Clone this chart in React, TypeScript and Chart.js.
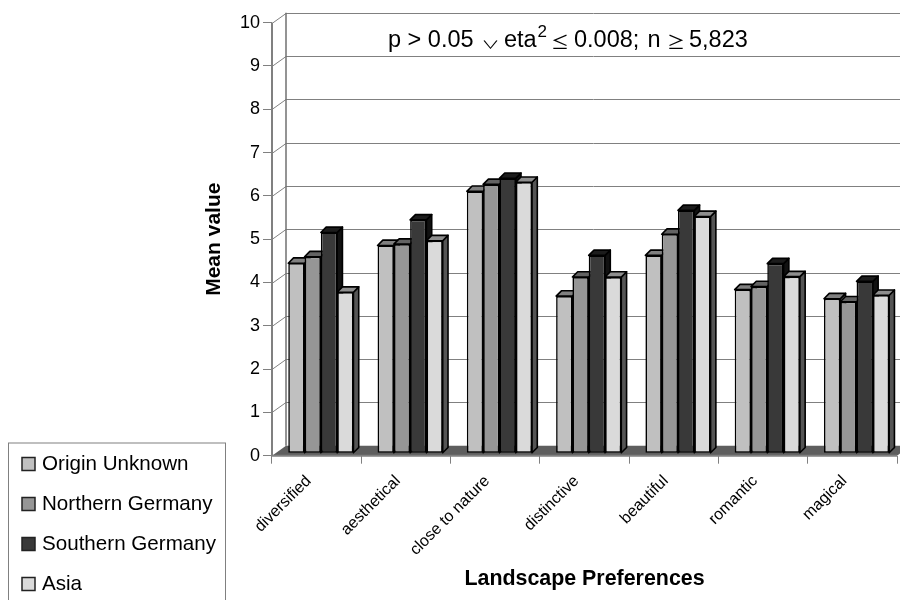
import React, { useEffect, useRef } from "react";
import { Chart, registerables } from "chart.js";

Chart.register(...registerables);

const categories = ["diversified", "aesthetical", "close to nature", "distinctive", "beautiful", "romantic", "magical"];
const originUnknown = [4.39, 4.80, 6.05, 3.63, 4.57, 3.78, 3.57];
const northernGermany = [4.54, 4.83, 6.21, 4.07, 5.06, 3.85, 3.50];
const southernGermany = [5.10, 5.39, 6.35, 4.57, 5.61, 4.38, 3.97];
const asia = [3.72, 4.91, 6.26, 4.07, 5.47, 4.08, 3.65];
const seriesNames = ["Origin Unknown", "Northern Germany", "Southern Germany", "Asia"];
const frontColors = ["#c0c0c0", "#969696", "#393939", "#dadada"];
const topColors = ["#808080", "#636363", "#1c1c1c", "#8e8e8e"];
const sideColors = ["#606060", "#4b4b4b", "#111111", "#555555"];

const FONT = '"Liberation Sans", Arial, sans-serif';
const WALL_DX = 14;
const WALL_DY = -10;
const BAR_DX = 4.2;
const BAR_DY = -2.4;
const BAR_DEPTH = 5.3;

const scene3d = {
  id: "scene3d",
  beforeDatasetsDraw(chart: any) {
    const { ctx, scales, chartArea } = chart;
    const y = scales.y;
    const base = y.getPixelForValue(0);
    ctx.save();
    // floor
    ctx.fillStyle = "#5e5e5e";
    ctx.beginPath();
    ctx.moveTo(chartArea.left, base);
    ctx.lineTo(chartArea.left + WALL_DX, base + WALL_DY);
    ctx.lineTo(chartArea.right + WALL_DX, base + WALL_DY);
    ctx.lineTo(chartArea.right, base);
    ctx.closePath();
    ctx.fill();
    // wall grid
    ctx.strokeStyle = "#808080";
    ctx.lineWidth = 1;
    y.ticks.forEach((t: any) => {
      if (t.value === 0) return;
      const py = Math.round(y.getPixelForValue(t.value)) + 0.5;
      ctx.beginPath();
      ctx.moveTo(chartArea.left, py);
      ctx.lineTo(chartArea.left + WALL_DX, py + WALL_DY);
      ctx.lineTo(chartArea.right + WALL_DX, py + WALL_DY);
      ctx.stroke();
    });
    ctx.lineWidth = 1.5;
    ctx.strokeStyle = "#707070";
    ctx.beginPath();
    ctx.moveTo(chartArea.left + WALL_DX, y.getPixelForValue(10) + WALL_DY);
    ctx.lineTo(chartArea.left + WALL_DX, base + WALL_DY);
    ctx.stroke();
    ctx.strokeStyle = "#808080";
    ctx.lineWidth = 2;
    ctx.beginPath();
    ctx.moveTo(chartArea.left, y.getPixelForValue(10));
    ctx.lineTo(chartArea.left, base);
    ctx.lineTo(chartArea.right, base);
    ctx.stroke();
    // bars, left to right so nearer faces cover the sides of earlier ones
    ctx.translate(BAR_DX, BAR_DY);
    const count = categories.length;
    for (let c = 0; c < count; c++) {
      for (let s = 0; s < chart.data.datasets.length; s++) {
        const bar = chart.getDatasetMeta(s).data[c];
        const { x, y: top, base: b, width } = bar.getProps(["x", "y", "base", "width"], true);
        const l = x - width / 2;
        const r = x + width / 2;
        ctx.lineWidth = 1.6;
        ctx.strokeStyle = "#000000";
        ctx.lineJoin = "round";
        ctx.fillStyle = sideColors[s];
        ctx.beginPath();
        ctx.moveTo(r, top);
        ctx.lineTo(r + BAR_DEPTH, top - BAR_DEPTH);
        ctx.lineTo(r + BAR_DEPTH, b - BAR_DEPTH);
        ctx.lineTo(r, b);
        ctx.closePath();
        ctx.fill();
        ctx.stroke();
        ctx.fillStyle = topColors[s];
        ctx.beginPath();
        ctx.moveTo(l, top);
        ctx.lineTo(l + BAR_DEPTH, top - BAR_DEPTH);
        ctx.lineTo(r + BAR_DEPTH, top - BAR_DEPTH);
        ctx.lineTo(r, top);
        ctx.closePath();
        ctx.fill();
        ctx.stroke();
        bar.draw(ctx);
      }
    }
    ctx.restore();
    return false;
  },
  afterDraw(chart: any) {
    const { ctx } = chart;
    ctx.save();
    // legend
    ctx.fillStyle = "#ffffff";
    ctx.strokeStyle = "#808080";
    ctx.lineWidth = 1;
    ctx.fillRect(8.5, 443, 217, 170);
    ctx.strokeRect(8.5, 443, 217, 170);
    ctx.textBaseline = "middle";
    ctx.textAlign = "left";
    ctx.font = `20.6px ${FONT}`;
    chart.data.datasets.forEach((d: any, i: number) => {
      const cy = 464 + i * 40;
      ctx.fillStyle = d.backgroundColor;
      ctx.strokeStyle = "#222222";
      ctx.lineWidth = 1.5;
      ctx.fillRect(22, cy - 6.5, 13, 13);
      ctx.strokeRect(22, cy - 6.5, 13, 13);
      ctx.fillStyle = "#000000";
      ctx.fillText(d.label, 42, cy + 0.5);
    });
    // statistics note
    ctx.textBaseline = "alphabetic";
    ctx.fillStyle = "#000000";
    const baseY = 47;
    const main = `23.5px ${FONT}`;
    const math = `18px "Noto Sans CJK JP"`;
    const put = (t: string, x: number, font: string, dy = 0) => {
      ctx.font = font;
      ctx.fillText(t, x, baseY + dy);
    };
    put("p > 0.05", 388, main);
    ctx.save();
    ctx.translate(481.5, baseY + 1.5);
    ctx.scale(1, 0.62);
    ctx.font = math;
    ctx.fillText("\u2228", 0, 0);
    ctx.restore();
    put("eta", 504, main);
    put("2", 537.5, `17px ${FONT}`, -10.5);
    put("\u2264", 551, math, 1.5);
    put("0.008;", 574, main);
    put("n", 647.5, main);
    put("\u2265", 667, math, 1.5);
    put("5,823", 689, main);
    ctx.restore();
  },
};

export default function App() {
  const ref = useRef<HTMLCanvasElement | null>(null);
  useEffect(() => {
    if (!ref.current) return;
    const values = [originUnknown, northernGermany, southernGermany, asia];
    const chart = new Chart(ref.current, {
      type: "bar",
      data: {
        labels: categories,
        datasets: seriesNames.map((label, i) => ({
          label,
          data: values[i],
          backgroundColor: frontColors[i],
          borderColor: "#000000",
          borderWidth: 1.6,
          borderSkipped: false,
          barPercentage: 1,
          categoryPercentage: 0.73,
        })),
      },
      options: {
        responsive: false,
        animation: false,
        devicePixelRatio: 1,
        layout: { padding: { left: 200, right: 3, top: 22.7, bottom: 8 } },
        plugins: { legend: { display: false }, tooltip: { enabled: false }, title: { display: false } },
        scales: {
          x: {
            grid: { drawOnChartArea: false, drawTicks: true, tickLength: 8, color: "#808080", lineWidth: 1 },
            border: { display: false },
            ticks: {
              minRotation: 45,
              maxRotation: 45,
              color: "#000000",
              padding: 8,
              labelOffset: -8,
              font: { family: FONT, size: 16 },
              autoSkip: false,
            },
            title: {
              display: true,
              text: "Landscape Preferences",
              color: "#000000",
              font: { family: FONT, size: 21.4, weight: "bold" },
              padding: 0,
            },
            afterFit(scale: any) {
              scale.height = 600 - 8 - 455.7;
            },
          },
          y: {
            min: 0,
            max: 10,
            grid: { drawOnChartArea: false, drawTicks: true, tickLength: 9, color: "#808080", lineWidth: 1 },
            border: { display: false },
            ticks: {
              stepSize: 1,
              color: "#000000",
              padding: 3,
              font: { family: FONT, size: 18 },
            },
            title: {
              display: true,
              text: "Mean value",
              color: "#000000",
              font: { family: FONT, size: 21, weight: "bold" },
              padding: { top: 2, bottom: 0 },
            },
            afterFit(scale: any) {
              scale.width = 72;
            },
          },
        },
      },
      plugins: [scene3d],
    } as any);
    return () => chart.destroy();
  }, []);
  return (
    <canvas
      ref={ref}
      width={900}
      height={600}
      style={{ position: "absolute", left: 0, top: 0, width: 900, height: 600, display: "block", background: "#ffffff" }}
    />
  );
}
